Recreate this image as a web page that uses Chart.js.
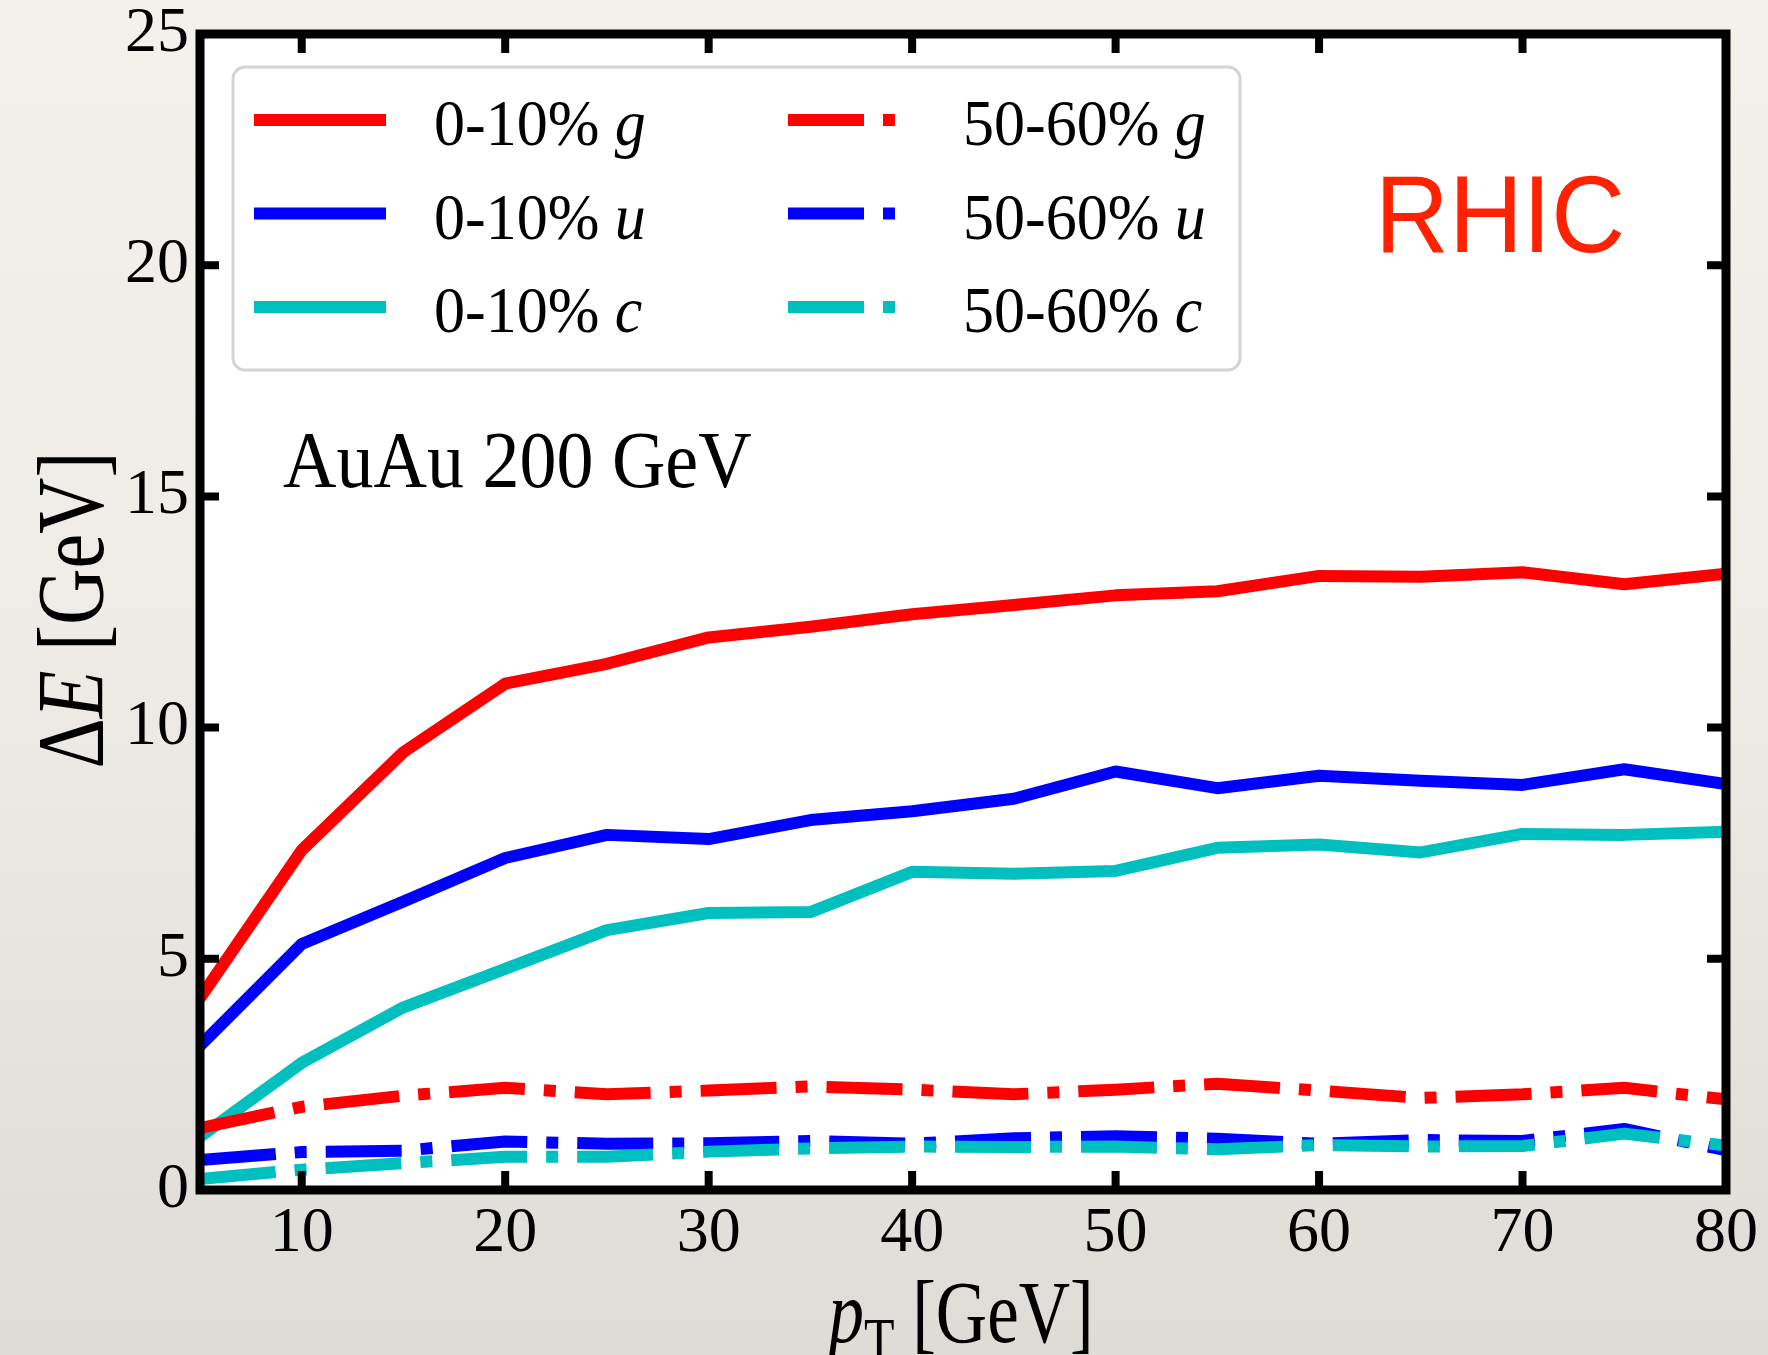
<!DOCTYPE html>
<html>
<head>
<meta charset="utf-8">
<title>Energy loss vs pT at RHIC</title>
<script src="https://cdn.jsdelivr.net/npm/chart.js@4.4.1/dist/chart.umd.min.js"></script>
<style>
  html, body { margin: 0; padding: 0; }
  body {
    width: 1768px;
    height: 1355px;
    overflow: hidden;
    background: linear-gradient(180deg, #f4f1ec 0%, #efece7 45%, #e5e2de 80%, #dfdcd8 100%);
  }
  canvas { display: block; }
</style>
</head>
<body>
<canvas id="elossChart" width="1768" height="1355"></canvas>
<script>
const ptValues = [5, 10, 15, 20, 25, 30, 35, 40, 45, 50, 55, 60, 65, 70, 75, 80];

// 0-10% centrality
const gluonCentral = [4.15, 7.35, 9.47, 10.95, 11.38, 11.95, 12.18, 12.45, 12.65, 12.86, 12.95, 13.28, 13.26, 13.36, 13.10, 13.33];
const upCentral    = [3.12, 5.32, 6.24, 7.18, 7.68, 7.59, 8.00, 8.19, 8.46, 9.05, 8.69, 8.96, 8.85, 8.76, 9.10, 8.78];
const charmCentral = [1.15, 2.75, 3.95, 4.78, 5.62, 5.99, 6.01, 6.88, 6.84, 6.90, 7.40, 7.47, 7.30, 7.70, 7.68, 7.75];

// 50-60% centrality
const gluonPeripheral = [1.34, 1.80, 2.04, 2.21, 2.07, 2.15, 2.24, 2.17, 2.07, 2.17, 2.30, 2.15, 1.99, 2.07, 2.21, 1.96];
const upPeripheral    = [0.65, 0.82, 0.85, 1.05, 1.00, 1.01, 1.06, 1.00, 1.12, 1.16, 1.11, 1.00, 1.08, 1.06, 1.32, 0.86];
const charmPeripheral = [0.24, 0.44, 0.58, 0.72, 0.72, 0.83, 0.90, 0.94, 0.93, 0.94, 0.88, 0.97, 0.94, 0.95, 1.22, 0.96];

const centralityLabels = ['0-10%', '0-10%', '0-10%', '50-60%', '50-60%', '50-60%'];
const partonLabels = ['g', 'u', 'c', 'g', 'u', 'c'];

const xTickValues = [10, 20, 30, 40, 50, 60, 70, 80];
const yTickValues = [0, 5, 10, 15, 20, 25];

const SERIF = '"Liberation Serif", "Times New Roman", serif';
const SANS = '"Liberation Sans", Arial, sans-serif';
const RED = '#ff0000', BLUE = '#0000ff', CYAN = '#00bfbf';
const DASH_DOT = [76, 19, 12, 19];

// later datasets are painted on top (lower order = drawn last)
function series(values, color, dash, idx) {
  return {
    label: centralityLabels[idx] + ' ' + partonLabels[idx],
    data: ptValues.map((x, i) => ({ x, y: values[i] })),
    borderColor: color,
    borderWidth: 12,
    borderDash: dash,
    borderCapStyle: 'butt',
    borderJoinStyle: 'round',
    pointRadius: 0,
    tension: 0,
    fill: false,
    order: 6 - idx
  };
}

// draws a string made of plain / italic / subscript pieces
function drawRuns(ctx, runs, o) {
  const size = o.size, family = o.family || SERIF;
  ctx.save();
  ctx.translate(o.x, o.y);
  if (o.rotate) ctx.rotate(o.rotate);
  ctx.scale(o.sx || 1, o.sy || 1);
  ctx.fillStyle = o.color || '#000';
  ctx.textBaseline = 'alphabetic';
  ctx.textAlign = 'left';
  const fontOf = r => (r.italic ? 'italic ' : '') + Math.round(size * (r.sub ? 0.7 : 1)) + 'px ' + family;
  let total = 0;
  runs.forEach(r => { ctx.font = fontOf(r); total += ctx.measureText(r.text).width; });
  let cx = o.align === 'center' ? -total / 2 : 0;
  runs.forEach(r => {
    ctx.font = fontOf(r);
    ctx.fillText(r.text, cx, r.sub ? size * 0.22 : 0);
    cx += ctx.measureText(r.text).width;
  });
  ctx.restore();
}

const framePlugin = {
  id: 'frame',
  beforeDraw(chart) {
    const { ctx, chartArea: a } = chart;
    ctx.save();
    ctx.fillStyle = '#ffffff';
    ctx.fillRect(a.left, a.top, a.right - a.left, a.bottom - a.top);
    ctx.restore();
  },
  afterDatasetsDraw(chart) {
    const { ctx, chartArea: a, scales } = chart;
    ctx.save();
    ctx.strokeStyle = '#000';
    ctx.lineCap = 'butt';
    // inward ticks on all four sides
    ctx.lineWidth = 8;
    const len = 19;
    ctx.beginPath();
    scales.x.ticks.forEach(t => {
      const px = scales.x.getPixelForValue(t.value);
      ctx.moveTo(px, a.bottom); ctx.lineTo(px, a.bottom - len);
      ctx.moveTo(px, a.top); ctx.lineTo(px, a.top + len);
    });
    scales.y.ticks.forEach(t => {
      const py = scales.y.getPixelForValue(t.value);
      ctx.moveTo(a.left, py); ctx.lineTo(a.left + len, py);
      ctx.moveTo(a.right, py); ctx.lineTo(a.right - len, py);
    });
    ctx.stroke();
    ctx.lineWidth = 9;
    ctx.lineJoin = 'miter';
    ctx.strokeRect(a.left, a.top, a.right - a.left, a.bottom - a.top);
    ctx.restore();
  },
  afterDraw(chart) {
    const { ctx, chartArea: a } = chart;

    // legend box
    const bx = a.left + 33, by = a.top + 33, bw = 1007, bh = 303;
    ctx.save();
    ctx.beginPath();
    ctx.roundRect(bx, by, bw, bh, 12);
    ctx.fillStyle = '#ffffff';
    ctx.fill();
    ctx.lineWidth = 3;
    ctx.strokeStyle = '#d4d4d4';
    ctx.stroke();
    ctx.restore();

    const cols = [
      { x0: 254, x1: 386, tx: 434 },
      { x0: 788, x1: 900, tx: 963 }
    ];
    const rowY = [a.top + 86, a.top + 179.5, a.top + 273];
    chart.data.datasets.forEach((ds, i) => {
      const c = cols[i < 3 ? 0 : 1];
      const y = rowY[i % 3];
      ctx.save();
      ctx.strokeStyle = ds.borderColor;
      ctx.lineWidth = ds.borderWidth;
      ctx.lineCap = 'butt';
      ctx.setLineDash(ds.borderDash || []);
      ctx.beginPath();
      ctx.moveTo(c.x0, y);
      ctx.lineTo(c.x1, y);
      ctx.stroke();
      ctx.restore();
      drawRuns(ctx, [
        { text: centralityLabels[i] + ' ' },
        { text: partonLabels[i], italic: true }
      ], { x: c.tx, y: y + 25, size: 62, sy: 1.07 });
    });

    // annotations
    drawRuns(ctx, [{ text: 'RHIC' }], {
      x: 1375, y: 252, size: 110, sx: 0.93, family: SANS, color: '#ff2200'
    });
    drawRuns(ctx, [{ text: 'AuAu 200 GeV' }], { x: 283, y: 487, size: 74, sy: 1.1 });

    // axis titles
    drawRuns(ctx, [
      { text: 'p', italic: true },
      { text: 'T', sub: true },
      { text: ' [GeV]' }
    ], { x: (a.left + a.right) / 2 - 2, y: 1342, size: 64, sx: 1.11, sy: 1.4, align: 'center' });

    drawRuns(ctx, [
      { text: '\u0394' },
      { text: 'E', italic: true },
      { text: ' [GeV]' }
    ], { x: 103, y: (a.top + a.bottom) / 2 - 2, size: 64, sx: 1.22, sy: 1.5, rotate: -Math.PI / 2, align: 'center' });
  }
};

new Chart(document.getElementById('elossChart'), {
  type: 'line',
  data: {
    datasets: [
      series(gluonCentral, RED, [], 0),
      series(upCentral, BLUE, [], 1),
      series(charmCentral, CYAN, [], 2),
      series(gluonPeripheral, RED, DASH_DOT, 3),
      series(upPeripheral, BLUE, DASH_DOT, 4),
      series(charmPeripheral, CYAN, DASH_DOT, 5)
    ]
  },
  options: {
    responsive: false,
    animation: false,
    events: [],
    layout: { padding: { top: 34, right: 42, bottom: 0, left: 0 } },
    plugins: {
      legend: { display: false },
      tooltip: { enabled: false }
    },
    scales: {
      x: {
        type: 'linear',
        min: 5,
        max: 80,
        grid: { display: false, drawTicks: false },
        border: { display: false },
        afterBuildTicks: scale => { scale.ticks = xTickValues.map(v => ({ value: v })); },
        afterFit: scale => {
          scale.height = 165;
          scale.paddingLeft = 0;
          scale.paddingRight = 0;
        },
        ticks: {
          color: '#000',
          padding: 6,
          maxRotation: 0,
          autoSkip: false,
          font: { family: SERIF, size: 64 }
        }
      },
      y: {
        type: 'linear',
        min: 0,
        max: 25,
        grid: { display: false, drawTicks: false },
        border: { display: false },
        afterBuildTicks: scale => { scale.ticks = yTickValues.map(v => ({ value: v })); },
        afterFit: scale => {
          scale.width = 200;
          scale.paddingTop = 0;
          scale.paddingBottom = 0;
        },
        ticks: {
          color: '#000',
          padding: 11,
          autoSkip: false,
          font: { family: SERIF, size: 64 }
        }
      }
    }
  },
  plugins: [framePlugin]
});
</script>
</body>
</html>
